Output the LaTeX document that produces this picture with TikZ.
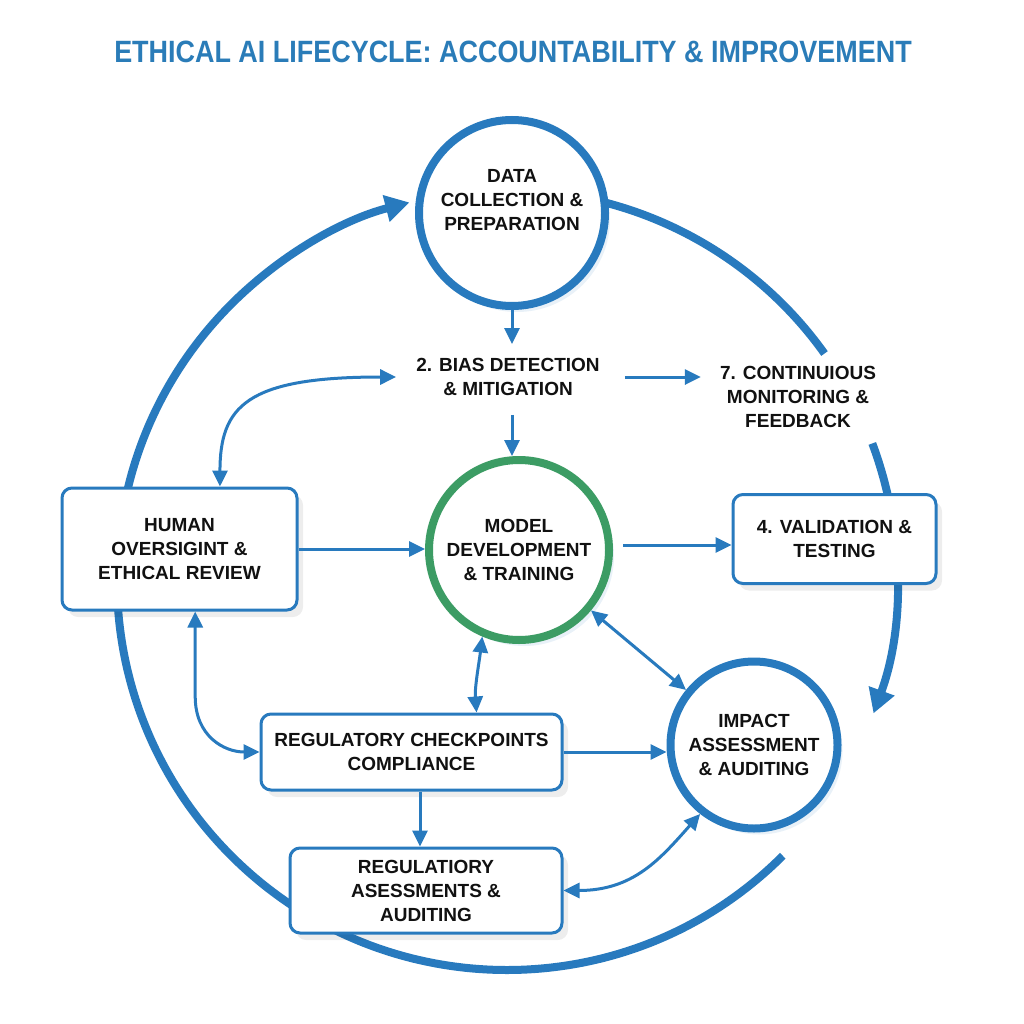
\documentclass[tikz,border=0pt]{standalone}
\usepackage{fontspec}
\setmainfont{Liberation Sans}
\newfontfamily\titlefam[FakeStretch=0.875]{Liberation Sans}
\usetikzlibrary{arrows.meta,shadows,calc}
\definecolor{ringblue}{RGB}{40,122,190}
\definecolor{titleblue}{RGB}{42,124,184}
\definecolor{mgreen}{RGB}{60,156,100}
\definecolor{txtc}{RGB}{17,17,17}
\newcommand\nodefont{\fontsize{19}{24}\selectfont\bfseries}
\begin{document}
\begin{tikzpicture}[x=1pt,y=-1pt,
  ring/.style={draw=ringblue, line width=8pt},
  ringtip/.style={-{Triangle[length=24pt,width=26pt]}},
  conn/.style={draw=ringblue, line width=3pt, -{Triangle[length=16pt,width=15pt]}},
  conntwo/.style={draw=ringblue, line width=3pt, {Triangle[length=16pt,width=15pt]}-{Triangle[length=16pt,width=15pt]}},
  cnode/.style={circle, draw=ringblue, line width=8pt, fill=white, inner sep=0pt,
    align=center, font=\nodefont, text=txtc,
    drop shadow={shadow xshift=5pt, shadow yshift=-6pt, fill=ringblue, opacity=0.10}},
  gnode/.style={cnode, draw=mgreen},
  bnode/.style={rectangle, rounded corners=10pt, draw=ringblue, line width=3pt, fill=white,
    align=center, font=\nodefont, text=txtc, inner sep=0pt,
    drop shadow={shadow xshift=6pt, shadow yshift=-7pt, fill=black, opacity=0.07}},
  tnode/.style={align=center, font=\nodefont, text=txtc, inner sep=0pt}
]
\fill[white] (0,0) rectangle (1024,1024);
\useasboundingbox (0,0) rectangle (1024,1024);

% title
\node[font=\titlefam\fontsize{30.8}{36}\selectfont\bfseries, text=titleblue, inner sep=0pt] (title) at (513,52)
  {ETHICAL AI LIFECYCLE: ACCOUNTABILITY \& IMPROVEMENT};

% big cycle ring
\coordinate (C) at (507,580);
\draw[ring, ringtip] ($(C)+(45:390)$) arc[start angle=45, end angle=255.5, radius=390];
\draw[ring] ($(C)+(280:390)$) arc[start angle=280, end angle=324.5, radius=390];
\draw[ring, ringtip] ($(C)+(339.5:390)$) arc[start angle=339.5, end angle=380, radius=390];

% nodes
\node[cnode, minimum size=186pt] (data) at (512,213) {};
\node[tnode] (datatext) at (512,200) {DATA\\COLLECTION \&\\PREPARATION};
\node[tnode] (bias) at (508,377) {2. BIAS DETECTION\\\& MITIGATION};
\node[tnode] (monitor) at (798,397) {7. CONTINUIOUS\\MONITORING \&\\FEEDBACK};
\node[gnode, minimum size=180pt] (model) at (519,550) {MODEL\\DEVELOPMENT\\\& TRAINING};
\node[cnode, minimum size=167pt] (impact) at (754,745) {IMPACT\\ASSESSMENT\\\& AUDITING};
\node[bnode, minimum width=235pt, minimum height=122pt] (human) at (179.5,549)
  {HUMAN\\OVERSIGINT \&\\ETHICAL REVIEW};
\node[bnode, minimum width=203pt, minimum height=89pt] (valid) at (834.5,539)
  {4. VALIDATION \&\\TESTING};
\node[bnode, minimum width=301pt, minimum height=76pt] (regcheck) at (411.5,752)
  {REGULATORY CHECKPOINTS\\COMPLIANCE};
\node[bnode, minimum width=272pt, minimum height=85pt] (regassess) at (426,890.5)
  {REGULATIORY\\ASESSMENTS \&\\AUDITING};

% connectors
\draw[conn] (data.south) -- (data.south |- bias.north) [shorten >=14pt];
\draw[conn, shorten <=19pt] (data.south |- bias.south) -- (data.south |- model.north);
\draw[conn, shorten <=25pt, shorten >=19pt] (bias.east) -- (bias.east -| monitor.west);
\draw[conn] (human.east) -- (human.east -| model.west);
\coordinate (me) at ([yshift=5pt]model.east);
\draw[conn, shorten <=10pt] (me) -- (me -| valid.west);
\draw[conntwo] (model.247) .. controls +(-3,25) and +(-2,-25) .. ($(regcheck.north west)!0.714!(regcheck.north east)$);
\draw[conntwo] (model.-40) -- (impact.141);
\draw[conn] (regcheck.east) -- (regcheck.east -| impact.west);
\coordinate (rc) at ($(regcheck.south west)!0.528!(regcheck.south east)$);
\draw[conn] (rc) -- (rc |- regassess.north);
\draw[conntwo] (regassess.east) .. controls +(70,0) and +(-40,45) .. (impact.232);
\coordinate (hn) at ($(human.north west)!0.67!(human.north east)$);
\draw[conntwo, shorten >=20pt] (hn) .. controls +(0,-80) and +(-170,0) .. (bias.west);
\coordinate (hs) at ($(human.south west)!0.566!(human.south east)$);
\draw[conntwo] (hs) -- ++(0,85) .. controls +(0,40) and +(-35,0) .. (regcheck.west);
\end{tikzpicture}
\end{document}
